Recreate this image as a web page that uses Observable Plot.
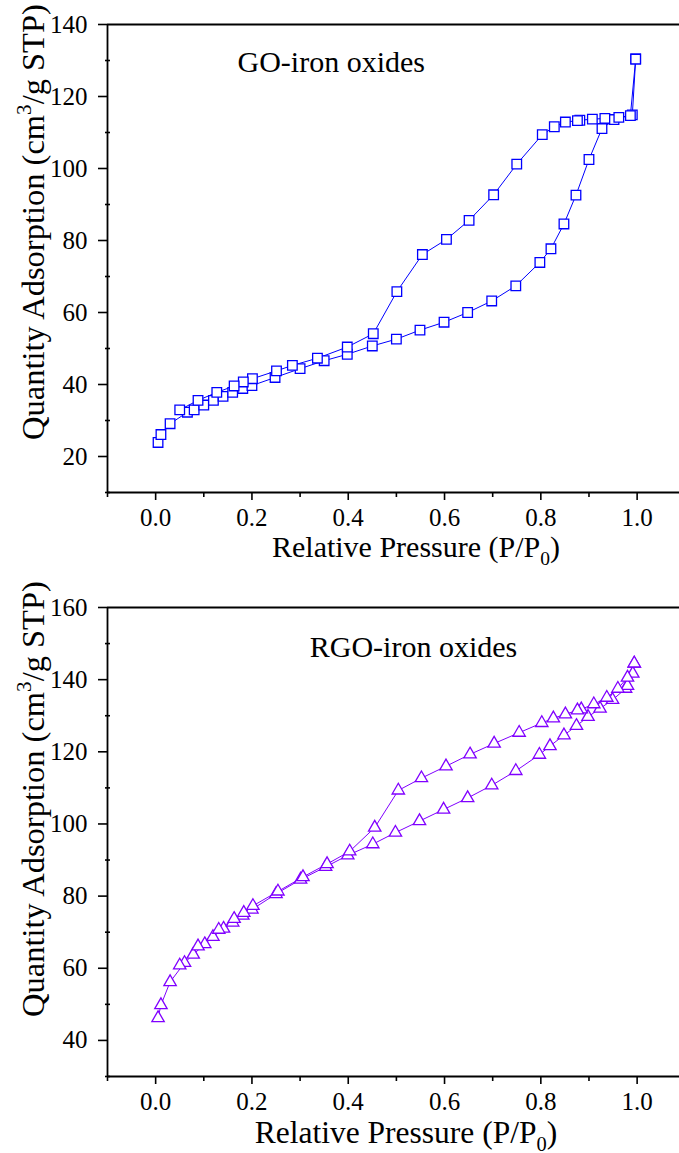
<!DOCTYPE html>
<html>
<head>
<meta charset="utf-8">
<script src="https://cdn.jsdelivr.net/npm/d3@7"></script>
<script src="https://cdn.jsdelivr.net/npm/@observablehq/plot@0.6"></script>
<style>
  html, body { margin: 0; padding: 0; background: #fff; }
  #root svg { display: block; }
</style>
</head>
<body>
<div id="root"></div>
<script>
// ---- data ----
const panelLabels = ["GO-iron oxides", "RGO-iron oxides"];
const xTitle = "Relative Pressure (P/P";
const xTitleSub = "0";
const yTitle = "Quantity Adsorption (cm";
const yTitleSup = "3";
const yTitleEnd = "/g STP)";

const xMajor = [0.0, 0.2, 0.4, 0.6, 0.8, 1.0];
const xMinor = [-0.1, 0.1, 0.3, 0.5, 0.7, 0.9];
const xDomain = [-0.1, 1.088];

const goYMajor = [20, 40, 60, 80, 100, 120, 140];
const goYMinor = [10, 30, 50, 70, 90, 110, 130];
const goYDomain = [10, 140];

const rgoYMajor = [40, 60, 80, 100, 120, 140, 160];
const rgoYMinor = [30, 50, 70, 90, 110, 130, 150];
const rgoYDomain = [30, 160];

// GO-iron oxides, adsorption branch
const goAdsP = [0.005,0.011,0.030,0.066,0.080,0.100,0.120,0.140,0.160,0.181,0.200,0.248,0.300,0.350,0.398,0.450,0.500,0.549,0.599,0.648,0.698,0.748,0.798,0.821,0.848,0.873,0.900,0.927,0.952,0.990,0.997];
const goAdsQ = [23.9,26.1,29.1,32.3,32.95,34.3,35.6,36.7,37.8,38.9,39.7,41.95,44.4,46.6,48.4,50.7,52.6,55.1,57.3,60.0,63.2,67.4,73.9,77.7,84.6,92.6,102.5,111.1,113.6,114.9,130.4];
// GO-iron oxides, desorption branch
const goDesP = [0.997,0.986,0.962,0.933,0.907,0.881,0.876,0.851,0.828,0.803,0.750,0.702,0.651,0.604,0.554,0.501,0.452,0.398,0.336,0.284,0.251,0.201,0.182,0.163,0.127,0.088,0.050];
const goDesQ = [130.4,114.7,114.2,113.9,113.7,113.4,113.3,112.9,111.6,109.4,101.2,92.7,85.6,80.3,76.1,65.8,54.1,50.4,47.3,45.3,43.8,41.6,40.7,39.6,37.8,35.6,32.95];

// RGO-iron oxides, adsorption branch
const rgoAdsP = [0.005,0.011,0.030,0.060,0.078,0.102,0.119,0.141,0.160,0.181,0.200,0.250,0.301,0.353,0.399,0.451,0.498,0.548,0.598,0.648,0.698,0.748,0.797,0.819,0.848,0.874,0.898,0.923,0.949,0.976,0.980,0.991,0.994];
const rgoAdsQ = [46.2,49.8,56.2,61.5,63.8,66.7,68.7,71.0,72.7,74.6,76.3,80.6,84.6,88.1,91.3,94.4,97.6,100.8,104.0,107.2,110.7,114.7,119.2,121.6,124.6,127.2,129.7,132.0,134.4,137.5,138.3,141.7,144.5];
// RGO-iron oxides, desorption branch
const rgoDesP = [0.994,0.980,0.960,0.937,0.910,0.884,0.876,0.851,0.826,0.802,0.755,0.703,0.653,0.603,0.552,0.504,0.455,0.403,0.356,0.306,0.254,0.202,0.183,0.163,0.131,0.088,0.050];
const rgoDesQ = [144.5,140.6,137.5,135.0,133.2,131.8,131.5,130.4,129.3,128.0,125.3,122.3,119.3,116.0,112.7,109.3,99.0,92.4,88.9,85.3,81.3,77.3,75.4,73.7,70.7,66.1,60.8];

const FONT = "'Liberation Serif', 'Times New Roman', serif";
const zip = (P, Q) => P.map((p, i) => ({p, q: Q[i]}));

function panel(cfg) {
  const ads = zip(cfg.adsP, cfg.adsQ);
  const des = zip(cfg.desP, cfg.desQ);
  const dotOpts = {x: "p", y: "q", symbol: cfg.symbol, r: cfg.r, stroke: cfg.color, fill: "white", strokeWidth: 1.3};
  const plot = Plot.plot({
    width: 679,
    height: cfg.height,
    marginLeft: 107,
    marginRight: 0,
    marginTop: cfg.marginTop,
    marginBottom: cfg.marginBottom,
    style: {fontFamily: FONT, fontSize: "25px", background: "white", color: "black", overflow: "visible"},
    x: {domain: xDomain},
    y: {domain: cfg.yDomain},
    marks: [
      Plot.line(ads, {x: "p", y: "q", stroke: cfg.color, strokeWidth: 1}),
      Plot.line(des, {x: "p", y: "q", stroke: cfg.color, strokeWidth: 1}),
      Plot.dot(ads, dotOpts),
      Plot.dot(des, dotOpts),
      Plot.text([cfg.label], {x: () => cfg.labelX, y: () => cfg.labelY, text: d => d, textAnchor: "start", lineAnchor: "bottom", fontSize: 30, fill: "black"}),
      Plot.axisX({ticks: xMajor, tickSize: 8, tickPadding: 8, tickFormat: d3.format(".1f"), fontSize: 25, label: null, strokeWidth: 1.6}),
      Plot.axisX({ticks: xMinor, tickSize: 5, tickFormat: () => "", label: null, strokeWidth: 1.6}),
      Plot.axisY({ticks: cfg.yMajor, tickSize: 9, tickPadding: 11, tickFormat: d3.format("d"), fontSize: 25, label: null, strokeWidth: 1.6}),
      Plot.axisY({ticks: cfg.yMinor, tickSize: 5, dx: 3, tickFormat: () => "", label: null, strokeWidth: 1.6}),
      Plot.ruleX([xDomain[0]], {strokeWidth: 1.8}),
      Plot.ruleY([cfg.yDomain[0]], {strokeWidth: 1.8}),
      Plot.ruleY([cfg.yDomain[1]], {strokeWidth: 1.8})
    ]
  });
  const svg = d3.select(plot);
  // x-axis title with subscript
  const xt = svg.append("text")
    .attr("x", cfg.xTitleX).attr("y", cfg.xTitleY)
    .attr("text-anchor", "middle")
    .attr("font-family", FONT).attr("font-size", cfg.xTitleSize).attr("fill", "black");
  xt.append("tspan").text(xTitle);
  xt.append("tspan").attr("font-size", cfg.xTitleSize * 0.65).attr("dy", 8).text(xTitleSub);
  xt.append("tspan").attr("dy", -8).text(")");
  // y-axis title with superscript
  const yt = svg.append("text")
    .attr("transform", `translate(${cfg.yTitleX},${cfg.yTitleY}) rotate(-90)`)
    .attr("text-anchor", "middle")
    .attr("font-family", FONT).attr("font-size", cfg.yTitleSize).attr("fill", "black");
  yt.append("tspan").text(yTitle);
  yt.append("tspan").attr("font-size", cfg.yTitleSize * 0.65).attr("dy", -13).text(yTitleSup);
  yt.append("tspan").attr("dy", 13).text(yTitleEnd);
  return plot;
}

const root = document.getElementById("root");
root.appendChild(panel({
  label: panelLabels[0], labelX: 0.17, labelY: 126.7,
  adsP: goAdsP, adsQ: goAdsQ, desP: goDesP, desQ: goDesQ,
  symbol: "square", r: 5.4, color: "#0000ff",
  yDomain: goYDomain, yMajor: goYMajor, yMinor: goYMinor,
  height: 577, marginTop: 24, marginBottom: 85,
  xTitleSize: 30, yTitleSize: 32.5, xTitleX: 416, xTitleY: 557, yTitleX: 44, yTitleY: 222
}));
root.appendChild(panel({
  label: panelLabels[1], labelX: 0.32, labelY: 146.3,
  adsP: rgoAdsP, adsQ: rgoAdsQ, desP: rgoDesP, desQ: rgoDesQ,
  symbol: "triangle", r: 4.6, color: "#8000ff",
  yDomain: rgoYDomain, yMajor: rgoYMajor, yMinor: rgoYMinor,
  height: 576, marginTop: 30, marginBottom: 77,
  xTitleSize: 31.5, yTitleSize: 32.5, xTitleX: 406, xTitleY: 566, yTitleX: 44, yTitleY: 222
}));
</script>
</body>
</html>
